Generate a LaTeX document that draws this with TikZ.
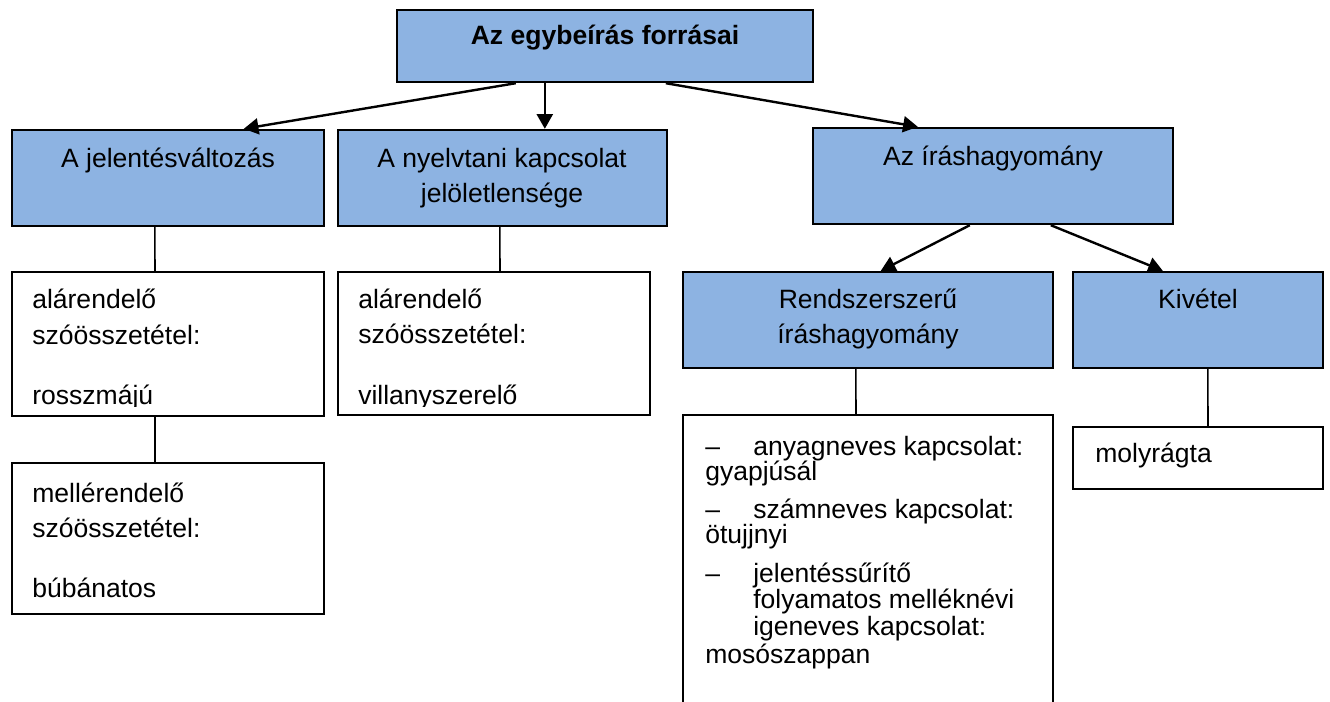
\documentclass[tikz,border=0pt]{standalone}
\usepackage{fontspec}
\setmainfont{Liberation Sans}
\usetikzlibrary{arrows.meta,calc,fit}
\definecolor{boxblue}{HTML}{8DB3E2}
\newcommand{\txtsize}{\fontsize{19.9pt}{24pt}\selectfont}
\begin{document}
\begin{tikzpicture}[x=0.75pt,y=-0.75pt,
  bluebox/.style={draw=black, fill=boxblue, line width=1.8pt, inner sep=0pt},
  whitebox/.style={draw=black, fill=white, line width=1.5pt, inner sep=0pt},
  txt/.style={inner sep=0pt, font=\txtsize},
  ctxt/.style={txt, anchor=base},
  ltxt/.style={txt, anchor=base west},
  arr/.style={line width=1.8pt, -{Triangle[length=11pt,width=12pt]}},
  conn/.style={line width=1.2pt}]
\clip (0,0) rectangle (1330,702);
\fill[white] (0,0) rectangle (1330,702);

% boxes
\node[bluebox, fit={(397,10) (813,82)}] (top) {};
\node[bluebox, fit={(12,130) (324,226)}] (A) {};
\node[bluebox, fit={(338,130) (667,226)}] (B) {};
\node[bluebox, fit={(813,128) (1173,224)}] (C) {};
\node[bluebox, fit={(683,272) (1053,368)}] (D) {};
\node[bluebox, fit={(1073,272) (1323,368)}] (E) {};
\node[whitebox, fit={(12,272) (324,416)}] (A1) {};
\node[whitebox, fit={(12,463) (324,614)}] (A2) {};
\node[whitebox, fit={(338,272) (650,415)}] (WB) {};
\node[whitebox, fit={(683,415) (1053,740)}] (WD) {};
\node[whitebox, fit={(1073,427) (1323,489)}] (WE) {};

% blue box texts
\node[ctxt, font=\txtsize\bfseries] (ttop) at (605,45) {Az egybeírás forrásai};
\node[ctxt] (tA) at (168,168) {A jelentésváltozás};
\node[ctxt] (tB1) at (502,168) {A nyelvtani kapcsolat};
\node[ctxt] (tB2) at (502,203) {jelöletlensége};
\node[ctxt] (tC) at (993,166) {Az íráshagyomány};
\node[ctxt] (tD1) at (868,308) {Rendszerszerű};
\node[ctxt] (tD2) at (868,343) {íráshagyomány};
\node[ctxt] (tE) at (1198,308) {Kivétel};

% white box texts
\node[ltxt] (a1l1) at (32,308) {alárendelő};
\node[ltxt] (a1l2) at (32,344) {szóösszetétel:};
\begin{scope}
\clip (12,272) rectangle (324,406);
\node[ltxt] (a1l3) at (32,404) {rosszmájú};
\end{scope}
\node[ltxt] (a2l1) at (32,502) {mellérendelő};
\node[ltxt] (a2l2) at (32,537) {szóösszetétel:};
\node[ltxt] (a2l3) at (32,597) {búbánatos};

\node[ltxt] (bl1) at (358,308) {alárendelő};
\node[ltxt] (bl2) at (358,343) {szóösszetétel:};
\begin{scope}
\clip (338,272) rectangle (650,406);
\node[ltxt] (bl3) at (358,404) {villanyszerelő};
\end{scope}

\node[ltxt] (d1) at (705,455) {–};
\node[ltxt] (d1t) at (753,455) {anyagneves kapcsolat:};
\node[ltxt] (d2) at (705,480) {gyapjúsál};
\node[ltxt] (d3) at (705,518) {–};
\node[ltxt] (d3t) at (753,518) {számneves kapcsolat:};
\node[ltxt] (d4) at (705,543) {ötujjnyi};
\node[ltxt] (d5) at (705,582) {–};
\node[ltxt] (d5t) at (753,582) {jelentéssűrítő};
\node[ltxt] (d6) at (753,608) {folyamatos melléknévi};
\node[ltxt] (d7) at (753,635) {igeneves kapcsolat:};
\node[ltxt] (d8) at (705,663) {mosószappan};

\node[ltxt] (e1) at (1095,462) {molyrágta};

% arrows
\draw[arr] ($(top.south west)+(120,0)$) -- ($(A.north west)+(233,0)$);
\draw[arr] ($(top.south west)+(149,0)$) -- ($(B.north west)+(208,0)$);
\draw[arr] ($(top.south west)+(270,0)$) -- ($(C.north west)+(106,0)$);
\draw[arr] ($(C.south west)+(158,0)$) -- ($(D.north west)+(199,0)$);
\draw[arr] ($(C.south west)+(239,0)$) -- ($(E.north west)+(91,0)$);

% plain connectors
\draw[conn] ($(A.south west)+(144,0)$) -- ($(A1.north west)+(144,0)$);
\draw[conn] ($(A1.south west)+(144,0)$) -- ($(A2.north west)+(144,0)$);
\draw[conn] ($(B.south west)+(163,0)$) -- ($(WB.north west)+(163,0)$);
\draw[conn] ($(D.south west)+(174,0)$) -- ($(WD.north west)+(174,0)$);
\draw[conn] ($(E.south west)+(136,0)$) -- ($(WE.north west)+(136,0)$);
\end{tikzpicture}
\end{document}
